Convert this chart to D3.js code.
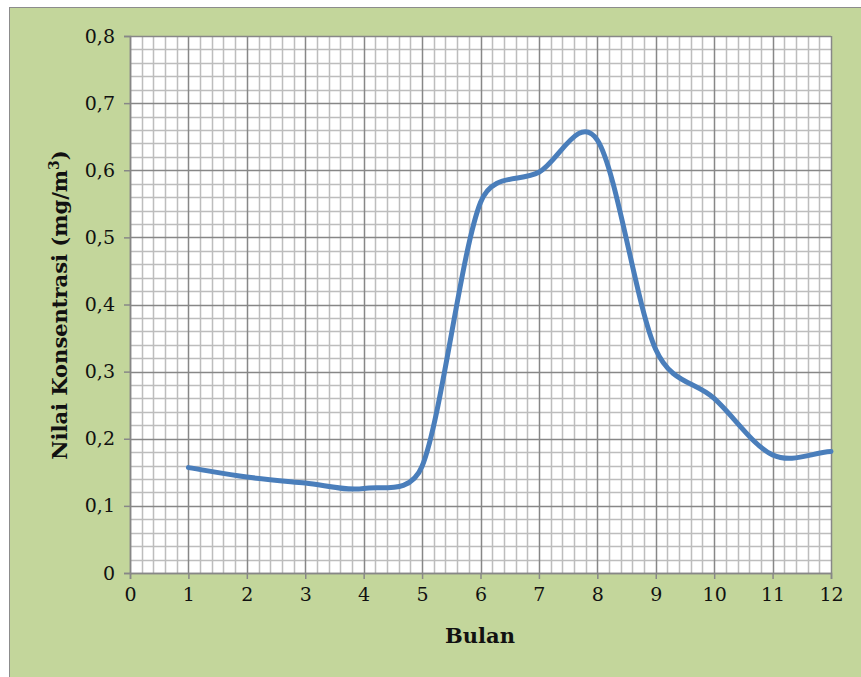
<!DOCTYPE html>
<html>
<head>
<meta charset="utf-8">
<script src="https://cdn.jsdelivr.net/npm/d3@7"></script>
<style>
  body { margin: 0; background: #fff; }
  text { font-family: "DejaVu Serif", "Liberation Serif", serif; fill: #111; }
</style>
</head>
<body>
<div id="chart"></div>
<script>
// months and concentration values
var bulan = [1, 2, 3, 4, 5, 6, 7, 8, 9, 10, 11, 12];
var nilai = [0.157, 0.143, 0.134, 0.126, 0.159, 0.552, 0.597, 0.645, 0.333, 0.26, 0.176, 0.181];
var xTicks = [0, 1, 2, 3, 4, 5, 6, 7, 8, 9, 10, 11, 12];
var yTicks = [0, 0.1, 0.2, 0.3, 0.4, 0.5, 0.6, 0.7, 0.8];

var W = 861, H = 677;
var pLeft = 130, pRight = 831, pTop = 36, pBottom = 573;

var svg = d3.select("#chart").append("svg")
  .attr("width", W).attr("height", H);

// chart background
svg.append("rect")
  .attr("x", 9.5).attr("y", 7.5)
  .attr("width", W - 9).attr("height", H - 7)
  .attr("fill", "#c3d69b")
  .attr("stroke", "#8c8c8c");

var x = d3.scaleLinear().domain([0, 12]).range([pLeft, pRight]);
var y = d3.scaleLinear().domain([0, 0.8]).range([pBottom, pTop]);

svg.append("rect")
  .attr("x", pLeft).attr("y", pTop)
  .attr("width", pRight - pLeft).attr("height", pBottom - pTop)
  .attr("fill", "#fff");

// minor grid
var g = svg.append("g");
var minorX = d3.range(0, 60).map(function(i) { return i * 0.2; }).filter(function(d, i) { return i % 5 != 0; });
var minorY = d3.range(0, 40).map(function(i) { return i * 0.02; }).filter(function(d, i) { return i % 5 != 0; });

g.selectAll(".mx").data(minorX).enter().append("line")
  .attr("x1", function(d) { return Math.round(x(d)) + 0.5; })
  .attr("x2", function(d) { return Math.round(x(d)) + 0.5; })
  .attr("y1", pTop).attr("y2", pBottom)
  .attr("stroke", "#bdbdbd").attr("stroke-width", 1.5);

g.selectAll(".my").data(minorY).enter().append("line")
  .attr("y1", function(d) { return Math.round(y(d)) + 0.5; })
  .attr("y2", function(d) { return Math.round(y(d)) + 0.5; })
  .attr("x1", pLeft).attr("x2", pRight)
  .attr("stroke", "#bdbdbd").attr("stroke-width", 1.5);

// major grid
g.selectAll(".Mx").data(xTicks).enter().append("line")
  .attr("x1", function(d) { return Math.round(x(d)) + 0.5; })
  .attr("x2", function(d) { return Math.round(x(d)) + 0.5; })
  .attr("y1", pTop).attr("y2", pBottom)
  .attr("stroke", "#878787").attr("stroke-width", 1.5);

g.selectAll(".My").data(yTicks).enter().append("line")
  .attr("y1", function(d) { return Math.round(y(d)) + 0.5; })
  .attr("y2", function(d) { return Math.round(y(d)) + 0.5; })
  .attr("x1", pLeft).attr("x2", pRight)
  .attr("stroke", "#878787").attr("stroke-width", 1.5);

// axes
var fmt = function(d) { return d3.format(".1f")(d).replace(".", ","); };

var xAxis = d3.axisBottom(x).tickValues(xTicks).tickSize(6).tickPadding(9);
var yAxis = d3.axisLeft(y).tickValues(yTicks).tickSize(6).tickPadding(9)
  .tickFormat(function(d) { return d == 0 ? "0" : fmt(d); });

var gx = svg.append("g").attr("transform", "translate(0," + pBottom + ")").call(xAxis);
var gy = svg.append("g").attr("transform", "translate(" + pLeft + ",0)").call(yAxis);

[gx, gy].forEach(function(a) {
  a.select(".domain").attr("stroke", "#878787").attr("stroke-width", 1.5);
  a.selectAll(".tick line").attr("stroke", "#878787").attr("stroke-width", 1.5);
  a.selectAll("text").attr("font-size", 19).attr("fill", "#111")
    .style("font-family", "'DejaVu Serif', serif");
});

// smoothed line, Excel style: catmull-rom tangents (1/6) but control
// points clamped to half the segment length
function smoothPath(pts) {
  var p = d3.path();
  var dist = function(a, b) { return Math.hypot(b[0] - a[0], b[1] - a[1]); };
  p.moveTo(pts[0][0], pts[0][1]);
  for (var i = 0; i < pts.length - 1; i++) {
    var p0 = pts[i > 0 ? i - 1 : i], p1 = pts[i], p2 = pts[i + 1];
    var p3 = pts[i + 2 < pts.length ? i + 2 : i + 1];
    var d12 = dist(p1, p2), d02 = dist(p0, p2), d13 = dist(p1, p3);
    var f0 = i == 0 ? 1 / 3 : 1 / 6;
    var f1 = i + 2 >= pts.length ? 1 / 3 : 1 / 6;
    if (d02 * f0 > d12 / 2) f0 = d12 / 2 / d02;
    if (d13 * f1 > d12 / 2) f1 = d12 / 2 / d13;
    p.bezierCurveTo(
      p1[0] + f0 * (p2[0] - p0[0]), p1[1] + f0 * (p2[1] - p0[1]),
      p2[0] - f1 * (p3[0] - p1[0]), p2[1] - f1 * (p3[1] - p1[1]),
      p2[0], p2[1]);
  }
  return p.toString();
}

var pts = nilai.map(function(v, i) { return [x(bulan[i]), y(v)]; });

svg.append("path")
  .attr("d", smoothPath(pts))
  .attr("fill", "none")
  .attr("stroke", "#4a7ebb")
  .attr("stroke-width", 5)
  .attr("stroke-linecap", "round");

// titles
svg.append("text")
  .attr("x", 480).attr("y", 643)
  .attr("text-anchor", "middle")
  .attr("font-size", 21).attr("font-weight", "bold")
  .text("Bulan");

var yt = svg.append("text")
  .attr("transform", "translate(67,305) rotate(-90)")
  .attr("text-anchor", "middle")
  .attr("font-size", 21).attr("font-weight", "bold");
yt.append("tspan").text("Nilai Konsentrasi (mg/m");
yt.append("tspan").attr("font-size", 14).attr("dy", -8).text("3");
yt.append("tspan").attr("dy", 8).text(")");
</script>
</body>
</html>
